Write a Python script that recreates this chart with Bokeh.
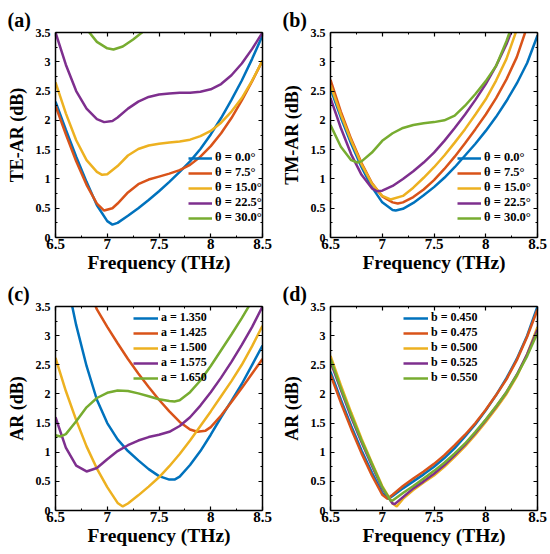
from bokeh.plotting import figure
from bokeh.models import (Legend, LegendItem, LinearAxis, FixedTicker,
                          Range1d, CustomJSTickFormatter)
from bokeh.layouts import gridplot
from bokeh.embed import file_html
from bokeh.resources import INLINE

# ---------------- data ----------------
colors = ["#0072BD", "#D95319", "#EDB120", "#7E2F8E", "#77AC30"]

x_major = [6.5, 7.0, 7.5, 8.0, 8.5]
x_minor = [6.75, 7.25, 7.75, 8.25]
x_labels = ["6.5", "7", "7.5", "8", "8.5"]
y_major = [0, 0.5, 1, 1.5, 2, 2.5, 3, 3.5]
y_minor = [0.25, 0.75, 1.25, 1.75, 2.25, 2.75, 3.25]
y_labels = ["0", "0.5", "1", "1.5", "2", "2.5", "3", "3.5"]

# (a) TE-AR
te_labels = ["θ = 0.0°", "θ = 7.5°", "θ = 15.0°", "θ = 22.5°", "θ = 30.0°"]
te_0_x = [6.5, 6.6, 6.7, 6.8, 6.9, 7.0, 7.05, 7.1, 7.2, 7.3, 7.4, 7.5, 7.6, 7.7, 7.8, 7.9, 8.0, 8.1, 8.2, 8.3, 8.4, 8.5]
te_0_y = [2.32, 1.84, 1.38, 0.95, 0.55, 0.28, 0.22, 0.25, 0.37, 0.5, 0.64, 0.79, 0.95, 1.12, 1.3, 1.51, 1.76, 2.04, 2.35, 2.68, 3.05, 3.45]
te_75_x = [6.5, 6.6, 6.7, 6.8, 6.9, 6.97, 7.05, 7.1, 7.2, 7.3, 7.4, 7.5, 7.6, 7.7, 7.8, 7.9, 8.0, 8.1, 8.2, 8.3, 8.4, 8.5]
te_75_y = [2.25, 1.76, 1.3, 0.9, 0.58, 0.46, 0.5, 0.58, 0.77, 0.91, 0.99, 1.04, 1.09, 1.15, 1.24, 1.38, 1.56, 1.78, 2.04, 2.34, 2.67, 3.02]
te_15_x = [6.5, 6.6, 6.7, 6.8, 6.9, 6.95, 7.0, 7.1, 7.2, 7.3, 7.4, 7.5, 7.6, 7.7, 7.8, 7.9, 8.0, 8.1, 8.2, 8.3, 8.4, 8.5]
te_15_y = [2.65, 2.12, 1.66, 1.32, 1.12, 1.07, 1.08, 1.22, 1.4, 1.51, 1.57, 1.6, 1.62, 1.64, 1.67, 1.73, 1.82, 1.96, 2.15, 2.38, 2.68, 3.02]
te_225_x = [6.5, 6.6, 6.7, 6.8, 6.9, 6.97, 7.05, 7.1, 7.2, 7.3, 7.4, 7.5, 7.6, 7.7, 7.8, 7.9, 8.0, 8.1, 8.2, 8.3, 8.4, 8.5]
te_225_y = [3.5, 2.95, 2.5, 2.2, 2.02, 1.97, 1.99, 2.05, 2.2, 2.32, 2.4, 2.44, 2.46, 2.47, 2.47, 2.49, 2.53, 2.62, 2.77, 2.97, 3.22, 3.5]
te_30_x = [6.8, 6.9, 7.0, 7.06, 7.15, 7.25, 7.35, 7.4]
te_30_y = [3.56, 3.34, 3.23, 3.21, 3.26, 3.38, 3.52, 3.6]

# (b) TM-AR
tm_0_x = [6.5, 6.6, 6.7, 6.8, 6.9, 7.0, 7.1, 7.13, 7.2, 7.3, 7.4, 7.5, 7.6, 7.7, 7.8, 7.9, 8.0, 8.1, 8.2, 8.3, 8.4, 8.5]
tm_0_y = [2.54, 2.05, 1.6, 1.2, 0.86, 0.6, 0.47, 0.46, 0.49, 0.59, 0.72, 0.86, 1.02, 1.2, 1.4, 1.6, 1.82, 2.06, 2.33, 2.63, 2.98, 3.45]
tm_75_x = [6.5, 6.6, 6.7, 6.8, 6.9, 7.0, 7.1, 7.15, 7.2, 7.3, 7.4, 7.5, 7.6, 7.7, 7.8, 7.9, 8.0, 8.1, 8.2, 8.3, 8.4]
tm_75_y = [2.69, 2.15, 1.68, 1.27, 0.93, 0.7, 0.6, 0.58, 0.6, 0.69, 0.82, 0.98, 1.17, 1.38, 1.61, 1.85, 2.1, 2.38, 2.7, 3.08, 3.6]
tm_15_x = [6.5, 6.6, 6.7, 6.8, 6.9, 7.0, 7.08, 7.2, 7.3, 7.4, 7.5, 7.6, 7.7, 7.8, 7.9, 8.0, 8.1, 8.2, 8.3]
tm_15_y = [2.6, 2.1, 1.65, 1.25, 0.92, 0.71, 0.65, 0.71, 0.85, 1.02, 1.2, 1.4, 1.62, 1.85, 2.1, 2.36, 2.68, 3.05, 3.55]
tm_225_x = [6.5, 6.6, 6.7, 6.8, 6.9, 6.95, 7.0, 7.1, 7.2, 7.3, 7.4, 7.5, 7.6, 7.7, 7.8, 7.9, 8.0, 8.1, 8.2, 8.3]
tm_225_y = [2.38, 1.87, 1.42, 1.07, 0.84, 0.79, 0.8, 0.88, 1.0, 1.13, 1.28, 1.45, 1.65, 1.87, 2.1, 2.35, 2.62, 2.93, 3.3, 3.75]
tm_30_x = [6.5, 6.6, 6.7, 6.76, 6.8, 6.9, 7.0, 7.1, 7.2, 7.3, 7.4, 7.5, 7.6, 7.7, 7.8, 7.9, 8.0, 8.1, 8.2, 8.25]
tm_30_y = [1.92, 1.55, 1.32, 1.28, 1.3, 1.45, 1.65, 1.78, 1.87, 1.92, 1.95, 1.97, 2.0, 2.08, 2.25, 2.45, 2.67, 2.93, 3.35, 3.6]

# (c) AR vs a
a_labels = ["a = 1.350", "a = 1.425", "a = 1.500", "a = 1.575", "a = 1.650"]
a_1350_x = [6.65, 6.7, 6.8, 6.9, 7.0, 7.1, 7.2, 7.3, 7.4, 7.5, 7.6, 7.65, 7.7, 7.8, 7.9, 8.0, 8.1, 8.2, 8.3, 8.4, 8.5]
a_1350_y = [3.6, 3.18, 2.48, 1.9, 1.5, 1.22, 1.02, 0.86, 0.71, 0.59, 0.53, 0.53, 0.58, 0.78, 1.02, 1.3, 1.6, 1.88, 2.17, 2.5, 2.83]
a_1425_x = [6.87, 6.9, 7.0, 7.1, 7.2, 7.3, 7.4, 7.5, 7.6, 7.7, 7.8, 7.87, 7.95, 8.0, 8.1, 8.2, 8.3, 8.4, 8.5]
a_1425_y = [3.58, 3.45, 3.15, 2.87, 2.6, 2.35, 2.12, 1.9, 1.7, 1.52, 1.39, 1.35, 1.37, 1.43, 1.63, 1.86, 2.1, 2.35, 2.6]
a_1500_x = [6.5, 6.6, 6.7, 6.8, 6.9, 7.0, 7.1, 7.15, 7.2, 7.3, 7.4, 7.5, 7.6, 7.7, 7.8, 7.9, 8.0, 8.1, 8.2, 8.3, 8.4, 8.5]
a_1500_y = [2.62, 2.05, 1.55, 1.1, 0.72, 0.4, 0.13, 0.07, 0.12, 0.26, 0.41, 0.57, 0.76, 0.97, 1.2, 1.45, 1.7, 1.96, 2.22, 2.5, 2.82, 3.17]
a_1575_x = [6.5, 6.6, 6.7, 6.8, 6.9, 7.0, 7.1, 7.2, 7.3, 7.4, 7.5, 7.6, 7.7, 7.8, 7.9, 8.0, 8.1, 8.2, 8.3, 8.4, 8.5]
a_1575_y = [1.6, 1.08, 0.77, 0.67, 0.73, 0.88, 1.02, 1.12, 1.2, 1.26, 1.3, 1.35, 1.45, 1.6, 1.8, 2.03, 2.28, 2.55, 2.84, 3.15, 3.5]
a_1650_x = [6.5, 6.55, 6.6, 6.7, 6.8, 6.9, 7.0, 7.1, 7.2, 7.3, 7.4, 7.5, 7.6, 7.65, 7.7, 7.8, 7.9, 8.0, 8.1, 8.2, 8.3, 8.4]
a_1650_y = [1.29, 1.27, 1.31, 1.53, 1.77, 1.93, 2.02, 2.06, 2.05, 2.01, 1.96, 1.91, 1.88, 1.87, 1.89, 2.03, 2.23, 2.48, 2.75, 3.02, 3.3, 3.6]

# (d) AR vs b
b_labels = ["b = 0.450", "b = 0.475", "b = 0.500", "b = 0.525", "b = 0.550"]
b_0450_x = [6.5, 6.6, 6.7, 6.8, 6.9, 7.0, 7.06, 7.1, 7.2, 7.3, 7.4, 7.5, 7.6, 7.7, 7.8, 7.9, 8.0, 8.1, 8.2, 8.3, 8.4, 8.5]
b_0450_y = [2.38, 1.9, 1.45, 1.03, 0.65, 0.3, 0.2, 0.25, 0.38, 0.5, 0.62, 0.75, 0.9, 1.07, 1.27, 1.48, 1.72, 1.98, 2.27, 2.6, 3.0, 3.5]
b_0475_x = [6.5, 6.6, 6.7, 6.8, 6.9, 7.0, 7.05, 7.1, 7.2, 7.3, 7.4, 7.5, 7.6, 7.7, 7.8, 7.9, 8.0, 8.1, 8.2, 8.3, 8.4, 8.5]
b_0475_y = [2.33, 1.85, 1.4, 0.98, 0.6, 0.27, 0.2, 0.27, 0.42, 0.55, 0.67, 0.8, 0.95, 1.12, 1.3, 1.5, 1.73, 1.98, 2.25, 2.58, 2.98, 3.45]
b_0500_x = [6.5, 6.6, 6.7, 6.8, 6.9, 7.0, 7.1, 7.14, 7.2, 7.3, 7.4, 7.5, 7.6, 7.7, 7.8, 7.9, 8.0, 8.1, 8.2, 8.3, 8.4, 8.5]
b_0500_y = [2.65, 2.15, 1.68, 1.23, 0.82, 0.42, 0.12, 0.07, 0.2, 0.35, 0.48, 0.6, 0.75, 0.92, 1.1, 1.3, 1.52, 1.75, 2.0, 2.3, 2.68, 3.15]
b_0525_x = [6.5, 6.6, 6.7, 6.8, 6.9, 7.0, 7.1, 7.12, 7.2, 7.3, 7.4, 7.5, 7.6, 7.7, 7.8, 7.9, 8.0, 8.1, 8.2, 8.3, 8.4, 8.5]
b_0525_y = [2.55, 2.07, 1.6, 1.17, 0.77, 0.38, 0.12, 0.11, 0.23, 0.38, 0.5, 0.63, 0.78, 0.95, 1.13, 1.33, 1.55, 1.78, 2.03, 2.33, 2.68, 3.1]
b_0550_x = [6.5, 6.6, 6.7, 6.8, 6.9, 7.0, 7.08, 7.1, 7.2, 7.3, 7.4, 7.5, 7.6, 7.7, 7.8, 7.9, 8.0, 8.1, 8.2, 8.3, 8.4, 8.5]
b_0550_y = [2.6, 2.1, 1.64, 1.2, 0.8, 0.4, 0.17, 0.17, 0.3, 0.42, 0.55, 0.68, 0.82, 0.98, 1.15, 1.35, 1.56, 1.79, 2.03, 2.32, 2.65, 3.05]

FONT = "Liberation Serif"


def key(t):
    s = repr(float(t))
    return s[:-2] if s.endswith(".0") else s


def make_panel(w, h, left, right, top, bottom, ylabel, tag, series, labels,
               leg_loc, leg_glyph_w, leg_font, leg_lh):
    p = figure(width=w, height=h, x_range=Range1d(6.5, 8.5), y_range=Range1d(0, 3.5),
               output_backend="svg", toolbar_location=None,
               min_border_left=left, min_border_right=right,
               min_border_top=top, min_border_bottom=bottom,
               x_axis_label="Frequency (THz)", y_axis_label=ylabel)
    p.grid.visible = False
    p.outline_line_color = None
    p.background_fill_color = "white"
    p.border_fill_color = "white"

    p.title.text = tag
    p.title.align = "left"
    p.title.offset = -48
    p.title.standoff = 4
    p.title.text_font = FONT
    p.title.text_font_style = "bold"
    p.title.text_font_size = "20px"
    p.title.text_color = "black"

    blank = CustomJSTickFormatter(code="return ''")
    p.add_layout(LinearAxis(formatter=blank), "right")
    p.add_layout(LinearAxis(formatter=blank), "above")

    xt = FixedTicker(ticks=x_major, minor_ticks=x_minor)
    yt = FixedTicker(ticks=y_major, minor_ticks=y_minor)
    xo = {key(t): l for t, l in zip(x_major, x_labels)}
    yo = {key(t): l for t, l in zip(y_major, y_labels)}

    for ax in p.axis:
        ax.axis_line_width = 1.5
        ax.axis_line_color = "black"
        ax.major_tick_in = 4
        ax.major_tick_out = 0
        ax.minor_tick_in = 2
        ax.minor_tick_out = 0
        ax.major_tick_line_width = 1.2
        ax.minor_tick_line_width = 1.0
        ax.major_label_text_font = FONT
        ax.major_label_text_font_style = "bold"
        ax.major_label_text_color = "black"
        ax.axis_label_text_font = FONT
        ax.axis_label_text_font_style = "bold"
        ax.axis_label_text_color = "black"
    for ax in p.xaxis:
        ax.ticker = xt
        ax.major_label_text_font_size = "15px"
        ax.axis_label_text_font_size = "19.5px"
    for ax in p.yaxis:
        ax.ticker = yt
        ax.major_label_text_font_size = "12px"
        ax.axis_label_text_font_size = "18px"

    for ax in (p.right[0], p.above[0]):
        ax.major_label_text_font_size = "1px"
        ax.major_label_standoff = 0

    p.below[0].major_label_overrides = xo
    p.below[0].major_label_standoff = 1
    p.below[0].axis_label_standoff = 0
    p.left[0].major_label_overrides = yo
    p.left[0].major_label_standoff = 5
    p.left[0].axis_label_standoff = 6

    items = []
    for (xs, ys), c, lab in zip(series, colors, labels):
        r = p.line(xs, ys, line_color=c, line_width=2.5)
        items.append(LegendItem(label=lab, renderers=[r]))

    leg = Legend(items=items, location=leg_loc, padding=0, margin=0,
                 spacing=0, glyph_width=leg_glyph_w, glyph_height=8,
                 label_height=8, label_standoff=3,
                 label_text_font=FONT, label_text_font_style="bold",
                 label_text_font_size=leg_font, label_text_line_height=leg_lh,
                 label_text_color="black",
                 background_fill_alpha=0, border_line_alpha=0)
    p.add_layout(leg, "center")
    return p


pa = make_panel(275, 277, 55, 13, 32, 40, "TE-AR (dB)", "(a)",
                [(te_0_x, te_0_y), (te_75_x, te_75_y), (te_15_x, te_15_y),
                 (te_225_x, te_225_y), (te_30_x, te_30_y)],
                te_labels, (133, 12), 24, "12.5px", 0.9)
pb = make_panel(275, 277, 55, 13, 32, 40, "TM-AR (dB)", "(b)",
                [(tm_0_x, tm_0_y), (tm_75_x, tm_75_y), (tm_15_x, tm_15_y),
                 (tm_225_x, tm_225_y), (tm_30_x, tm_30_y)],
                te_labels, (127, 12), 24, "12.5px", 0.9)
pc = make_panel(275, 277, 55, 13, 29, 44, "AR (dB)", "(c)",
                [(a_1350_x, a_1350_y), (a_1425_x, a_1425_y), (a_1500_x, a_1500_y),
                 (a_1575_x, a_1575_y), (a_1650_x, a_1650_y)],
                a_labels, (78, 125), 25, "12px", 0.65)
pd = make_panel(275, 277, 55, 13, 29, 44, "AR (dB)", "(d)",
                [(b_0450_x, b_0450_y), (b_0475_x, b_0475_y), (b_0500_x, b_0500_y),
                 (b_0525_x, b_0525_y), (b_0550_x, b_0550_y)],
                b_labels, (73, 125), 25, "12px", 0.65)

grid = gridplot([[pa, pb], [pc, pd]], toolbar_location=None)

open("out.html", "w").write(file_html(grid, INLINE))
